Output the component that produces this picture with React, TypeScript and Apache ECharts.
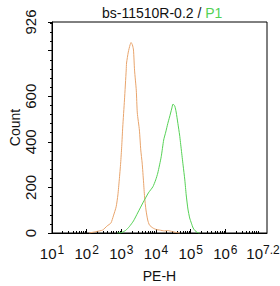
import React, { useEffect, useRef } from "react";
import * as echarts from "echarts";

// log10(PE-H) positions and counts
const orangeLogX = [2.07, 2.27, 2.46, 2.59, 2.7, 2.77, 2.85, 2.9, 2.94, 2.98, 3.01, 3.04, 3.09, 3.14, 3.15, 3.2, 3.25, 3.28, 3.32, 3.35, 3.38, 3.43, 3.46, 3.52, 3.56, 3.6, 3.64, 3.67, 3.71, 3.76, 3.81, 3.91, 4.01, 4.1, 4.25, 4.33, 4.45, 4.59, 4.68];
const orangeCount = [0, 6, 13, 31, 44, 75, 115, 167, 233, 307, 379, 465, 584, 715, 746, 794, 825, 836, 825, 803, 715, 627, 527, 452, 364, 307, 224, 158, 101, 57, 35, 22, 15, 13, 9, 11, 7, 2, 0];

const greenLogX = [2.88, 2.99, 3.12, 3.23, 3.35, 3.47, 3.62, 3.78, 3.91, 3.99, 4.05, 4.15, 4.22, 4.28, 4.34, 4.39, 4.45, 4.49, 4.54, 4.58, 4.63, 4.68, 4.73, 4.78, 4.83, 4.87, 4.92, 4.97, 5.02, 5.07, 5.12, 5.21, 5.26];
const greenCount = [0, 1, 11, 28, 53, 88, 132, 176, 203, 233, 263, 335, 408, 443, 481, 509, 544, 566, 557, 531, 481, 430, 364, 298, 233, 167, 105, 66, 43, 22, 11, 1, 0];

const xTickPositions = [1, 2, 3, 4, 5, 6, 7, 7.2];
const xTickExponents = ["1", "2", "3", "4", "5", "6", "7", "7.2"];
const yMajorTicks = [0, 200, 400, 600, 800, 926];
const yLabelTicks = [0, 200, 400, 600, 926];

const FONT = "'Liberation Sans', Arial, sans-serif";
const ORANGE = "#E8A46C";
const GREEN = "#55D155";
const TEXT = "#111";

export default function App() {
  const ref = useRef<HTMLDivElement>(null);
  useEffect(() => {
    if (!ref.current) return;
    const chart = echarts.init(ref.current, undefined, { renderer: "svg" });
    const xMinor: number[] = [];
    for (let d = 1; d <= 6; d++) {
      for (let k = 2; k <= 9; k++) xMinor.push(d + Math.log10(k));
    }
    const yMinor: number[] = [];
    for (let v = 40; v < 926; v += 40) if (v % 200 !== 0) yMinor.push(v);

    chart.setOption({
      animation: false,
      title: {
        text: "{a|bs-11510R-0.2 / }{b|P1}",
        left: 97,
        top: 1,
        textStyle: {
          fontWeight: "normal",
          rich: {
            a: { fontSize: 14, color: TEXT, fontFamily: FONT, fontWeight: "normal" },
            b: { fontSize: 14, color: GREEN, fontFamily: FONT, fontWeight: "normal" },
          },
        },
      },
      grid: {
        left: 52,
        right: 13,
        top: 22,
        bottom: 53,
        show: true,
        borderColor: "#000",
        borderWidth: 1,
        containLabel: false,
        outerBoundsMode: "none",
      },
      xAxis: [
        {
          type: "value",
          min: 1,
          max: 7.2,
          position: "bottom",
          name: "PE-H",
          nameLocation: "middle",
          nameGap: 36,
          nameMoveOverlap: false,
          nameTextStyle: { fontSize: 14, color: TEXT, fontFamily: FONT },
          axisLine: { show: true, lineStyle: { color: "#000", width: 1 } },
          axisTick: {
            show: true,
            inside: true,
            length: 4,
            customValues: xTickPositions.slice(0, 7),
            lineStyle: { color: "#000" },
          },
          axisLabel: {
            show: true,
            customValues: xTickPositions,
            showMinLabel: true,
            showMaxLabel: true,
            hideOverlap: false,
            margin: 11,
            fontSize: 14,
            color: TEXT,
            fontFamily: FONT,
            formatter: (v: number) => {
              const i = xTickPositions.findIndex((p) => Math.abs(p - v) < 1e-6);
              const e = i >= 0 ? xTickExponents[i] : "";
              return i === xTickPositions.length - 1
                ? `{b|10}{e|${e}}`
                : `{b|10}{s|${e}}`;
            },
            rich: {
              b: { fontSize: 15, color: TEXT, fontFamily: FONT },
              s: { fontSize: 12, color: TEXT, fontFamily: FONT, verticalAlign: "top", padding: [0, 0, 6, 1] },
              e: { fontSize: 12, color: TEXT, fontFamily: FONT, verticalAlign: "top", padding: [0, 8, 6, 0] },
            },
          },
          splitLine: { show: false },
        },
        {
          type: "value",
          min: 1,
          max: 7.2,
          position: "bottom",
          axisLine: { show: false },
          axisTick: {
            show: true,
            inside: true,
            length: 2,
            customValues: xMinor,
            lineStyle: { color: "#000" },
          },
          axisLabel: { show: false },
          splitLine: { show: false },
        },
      ],
      yAxis: [
        {
          type: "value",
          min: 0,
          max: 926,
          name: "Count",
          nameLocation: "middle",
          nameGap: 30,
          nameRotate: 90,
          nameMoveOverlap: false,
          nameTextStyle: { fontSize: 14, color: TEXT, fontFamily: FONT },
          axisLine: { show: true, lineStyle: { color: "#000", width: 1 } },
          axisTick: {
            show: true,
            inside: false,
            length: 4,
            customValues: yMajorTicks,
            lineStyle: { color: "#000" },
          },
          axisLabel: {
            show: true,
            customValues: yLabelTicks,
            showMinLabel: true,
            showMaxLabel: true,
            rotate: 90,
            margin: 14,
            fontSize: 15,
            color: TEXT,
            fontFamily: FONT,
          },
          splitLine: { show: false },
        },
        {
          type: "value",
          min: 0,
          max: 926,
          position: "left",
          axisLine: { show: false },
          axisTick: {
            show: true,
            inside: false,
            length: 2,
            customValues: yMinor,
            lineStyle: { color: "#000" },
          },
          axisLabel: { show: false },
          splitLine: { show: false },
        },
      ],
      series: [
        {
          type: "line",
          xAxisIndex: 0,
          yAxisIndex: 0,
          data: orangeLogX.map((x, i) => [x, orangeCount[i]]),
          showSymbol: false,
          smooth: 0.2,
          lineStyle: { color: ORANGE, width: 1 },
          itemStyle: { color: ORANGE },
        },
        {
          type: "line",
          xAxisIndex: 0,
          yAxisIndex: 0,
          data: greenLogX.map((x, i) => [x, greenCount[i]]),
          showSymbol: false,
          smooth: 0.2,
          lineStyle: { color: GREEN, width: 1 },
          itemStyle: { color: GREEN },
        },
      ],
    });
    return () => chart.dispose();
  }, []);
  return (
    <div
      ref={ref}
      style={{ position: "fixed", left: 0, top: 0, width: 280, height: 286, background: "#fff" }}
    />
  );
}
